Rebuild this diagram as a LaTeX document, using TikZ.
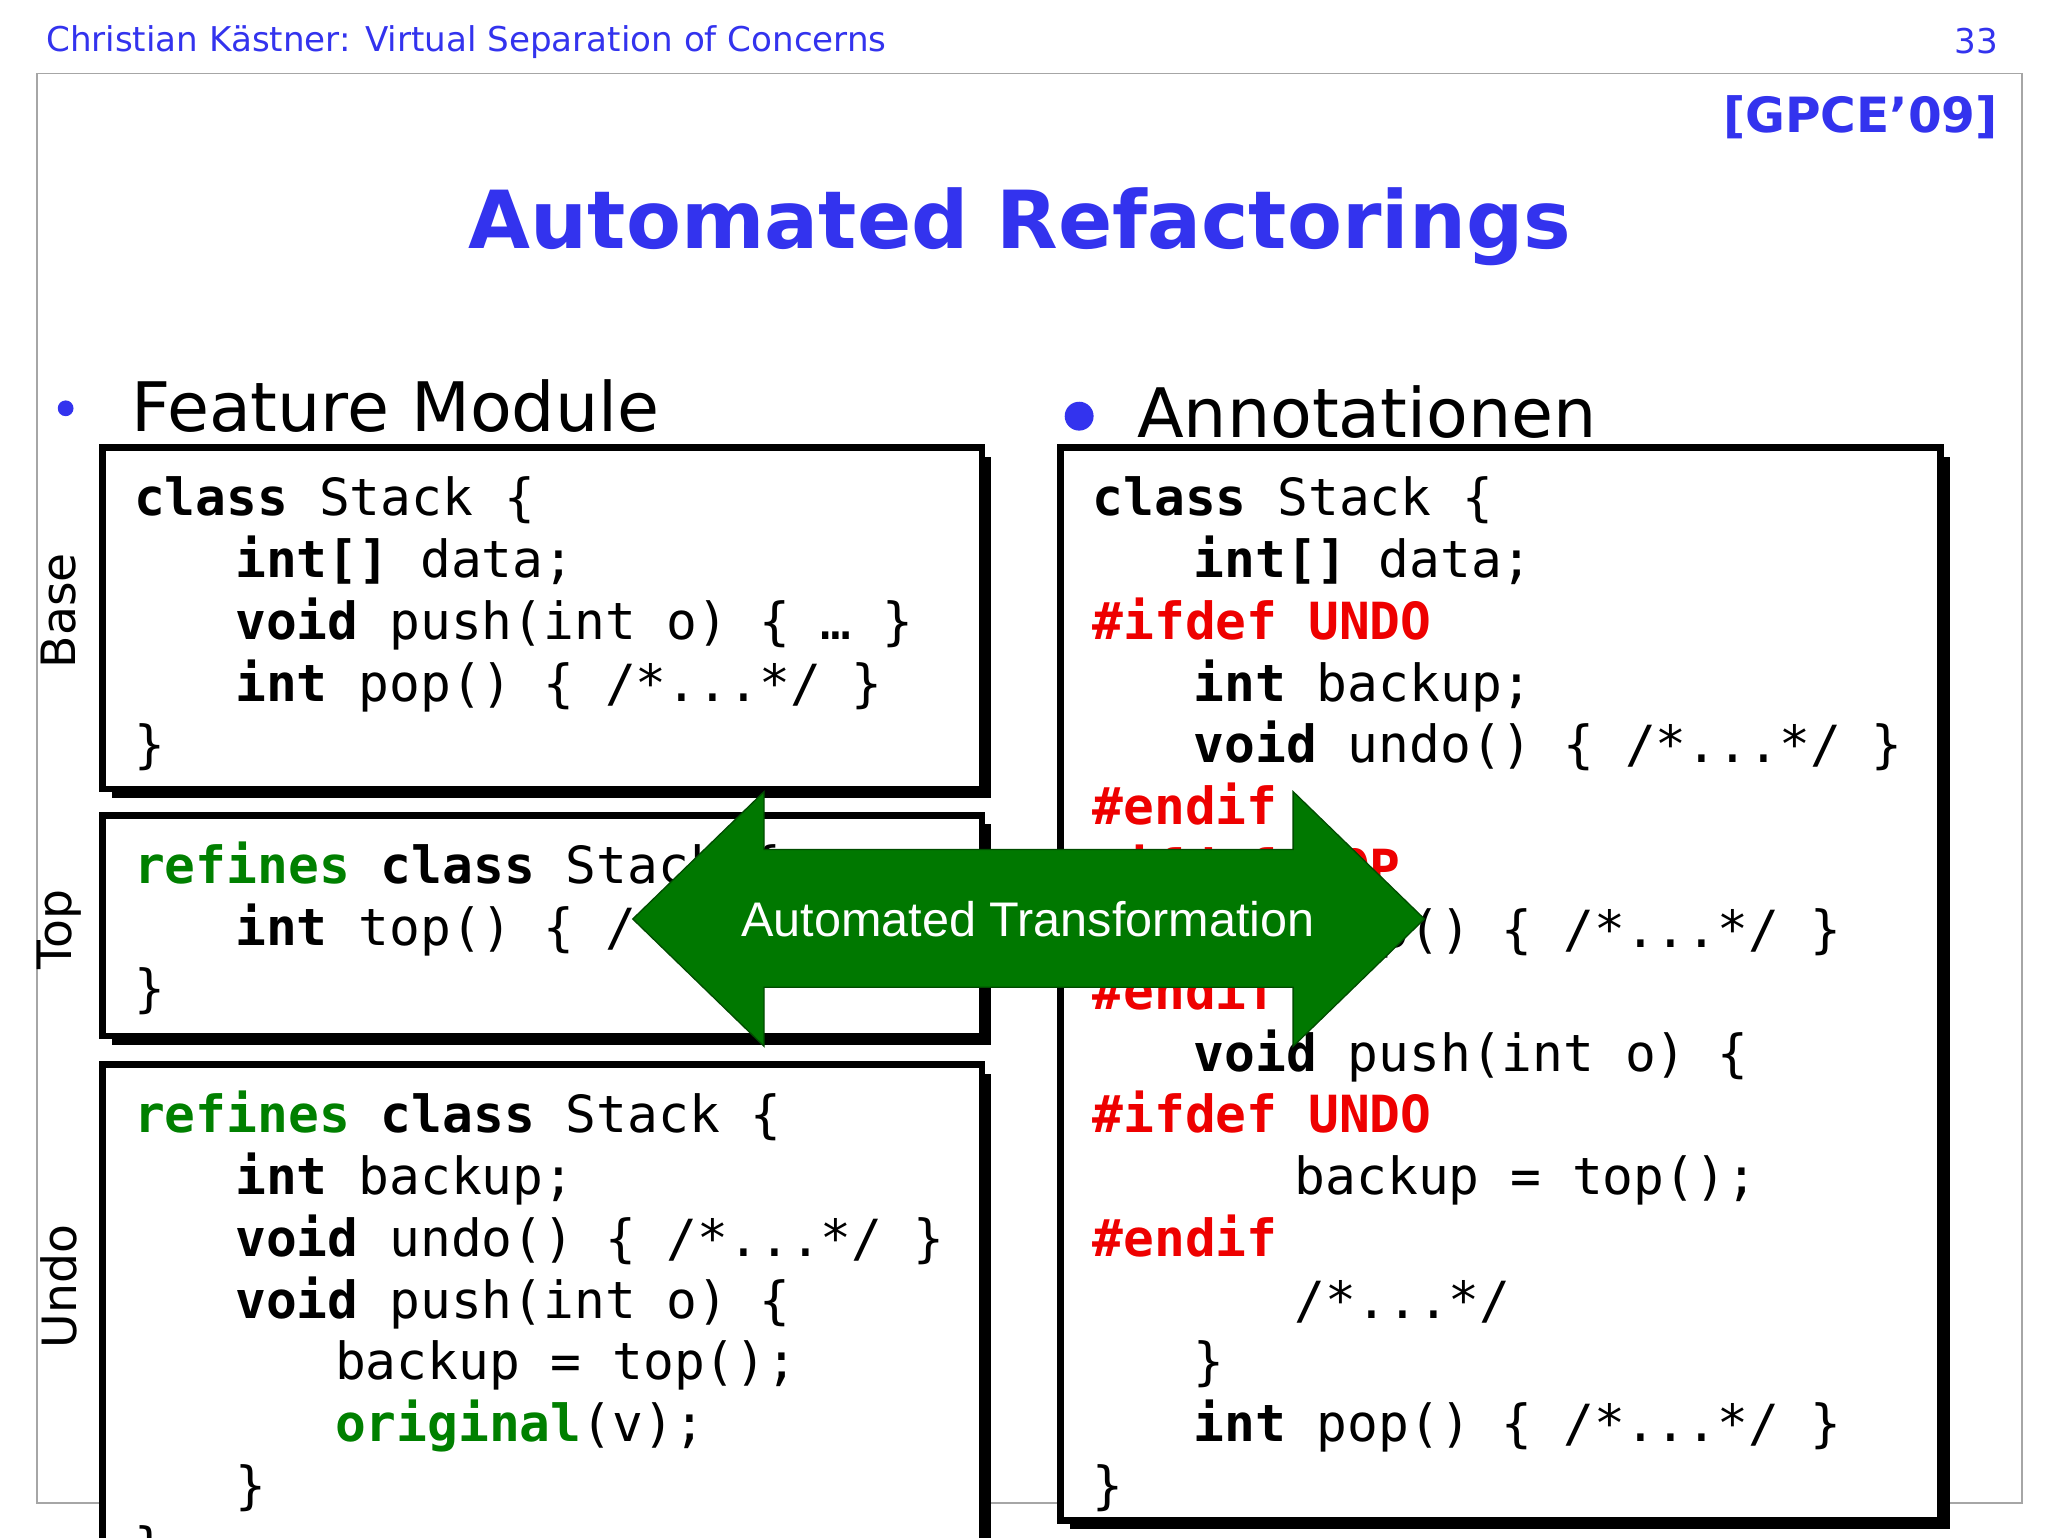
\documentclass[tikz,border=0pt]{standalone}
\usepackage{fontspec}
\setmainfont{DejaVu Sans}
\setmonofont{DejaVu Sans Mono}
\newfontfamily\arialfont{Liberation Sans}
\usetikzlibrary{calc}
\definecolor{hblue}{RGB}{51,51,238}
\definecolor{kgreen}{RGB}{0,128,0}
\definecolor{kred}{RGB}{238,0,0}
\definecolor{agreen}{RGB}{0,120,0}
\begin{document}
\begin{tikzpicture}[x=1pt,y=-1pt,
  code/.style={anchor=base west,inner sep=0pt,font=\fontsize{39}{41}\ttfamily},
  side/.style={rotate=90,inner sep=0pt,font=\fontsize{36}{38}\selectfont},
  box/.style={draw=black,line width=5pt,fill=white},
  shadow/.style={fill=black}]
\useasboundingbox (0,0) rectangle (1560,1171);
\clip (0,0) rectangle (1560,1171);
\fill[white] (0,0) rectangle (1560,1171);
\node[anchor=base west,inner sep=0pt,text=hblue,font=\fontsize{26}{28}\selectfont] (hdr) at (35,39) {Christian Kästner: Virtual Separation of Concerns};
\node[anchor=base east,inner sep=0pt,text=hblue,font=\fontsize{26}{28}\selectfont] (pg) at (1522,41) {33};
\draw[gray!70,line width=1.2pt] (28,56) rectangle (1540,1145);
\node[anchor=base east,inner sep=0pt,text=hblue,font=\fontsize{37}{39}\bfseries] (cite) at (1522,101) {[GPCE’09]};
\node[anchor=base,inner sep=0pt,text=hblue,font=\fontsize{61}{63}\bfseries] (title) at (777,189) {Automated Refactorings};
\node[circle,fill=hblue,inner sep=0pt,minimum size=12pt] (b1) at (50,311) {};
\node[anchor=base west,inner sep=0pt,font=\fontsize{52}{54}\selectfont] (fm) at (100,329) {Feature Module};
\node[circle,fill=hblue,inner sep=0pt,minimum size=22pt] (b2) at (822,317) {};
\node[anchor=base west,inner sep=0pt,font=\fontsize{52}{54}\selectfont] (an) at (866,333) {Annotationen};
% boxes
\fill[shadow] (85,348) rectangle (755,608);
\draw[box] (78,341) rectangle (748,601);
\fill[shadow] (85,628) rectangle (755,796);
\draw[box] (78,621) rectangle (748,789);
\fill[shadow] (85,818) rectangle (755,1300);
\draw[box] (78,811) rectangle (748,1300);
\fill[shadow] (815,348) rectangle (1485,1165);
\draw[box] (808,341) rectangle (1478,1158);
\node[side] (sb) at (45,465) {Base};
\node[side] (st) at (45,708) {Top};
\node[side] (su) at (45,980) {Undo};
% Base
\node[code] (l1) at (102,393) {\textbf{class} Stack \{};
\node[code] (l2) at (179,440) {\textbf{int[]} data;};
\node[code] (l3) at (179,487) {\textbf{void} push(int o) \{ … \}};
\node[code] (l4) at (179,534) {\textbf{int} pop() \{ /*...*/ \}};
\node[code] (l5) at (102,581) {\}};
% Top
\node[code] (t1) at (102,673) {\textcolor{kgreen}{\textbf{refines}} \textbf{class} Stack \{};
\node[code] (t2) at (179,720) {\textbf{int} top() \{ /*...*/ \}};
\node[code] (t3) at (102,767) {\}};
% Undo
\node[code] (u1) at (102,863) {\textcolor{kgreen}{\textbf{refines}} \textbf{class} Stack \{};
\node[code] (u2) at (179,910) {\textbf{int} backup;};
\node[code] (u3) at (179,957) {\textbf{void} undo() \{ /*...*/ \}};
\node[code] (u4) at (179,1004) {\textbf{void} push(int o) \{};
\node[code] (u5) at (255,1051) {backup = top();};
\node[code] (u6) at (255,1098) {\textcolor{kgreen}{\textbf{original}}(v);};
\node[code] (u7) at (179,1145) {\}};
\node[code] (u8) at (102,1192) {\}};
% Right
\node[code] (r1) at (832,393) {\textbf{class} Stack \{};
\node[code] (r2) at (909,440) {\textbf{int[]} data;};
\node[code] (r3) at (832,487) {\textcolor{kred}{\textbf{\#ifdef UNDO}}};
\node[code] (r4) at (909,534) {\textbf{int} backup;};
\node[code] (r5) at (909,581) {\textbf{void} undo() \{ /*...*/ \}};
\node[code] (r6) at (832,628) {\textcolor{kred}{\textbf{\#endif}}};
\node[code] (r7) at (832,675) {\textcolor{kred}{\textbf{\#ifdef TOP}}};
\node[code] (r8) at (909,722) {\textbf{int} top() \{ /*...*/ \}};
\node[code] (r9) at (832,769) {\textcolor{kred}{\textbf{\#endif}}};
\node[code] (r10) at (909,816) {\textbf{void} push(int o) \{};
\node[code] (r11) at (832,863) {\textcolor{kred}{\textbf{\#ifdef UNDO}}};
\node[code] (r12) at (986,910) {backup = top();};
\node[code] (r13) at (832,957) {\textcolor{kred}{\textbf{\#endif}}};
\node[code] (r14) at (986,1004) {/*...*/};
\node[code] (r15) at (909,1051) {\}};
\node[code] (r16) at (909,1098) {\textbf{int} pop() \{ /*...*/ \}};
\node[code] (r17) at (832,1145) {\}};
% arrow
\draw[fill=agreen,draw=black!70!green,line width=1pt,line join=miter]
 (482,700) -- (582,603) -- (582,647) -- (985,647) -- (985,603) -- (1085,700)
 -- (985,797) -- (985,752) -- (582,752) -- (582,797) -- cycle;
\node[text=white,inner sep=0pt,font=\fontsize{37}{39}\arialfont] (arr) at (783,700) {Automated Transformation};
\end{tikzpicture}
\end{document}
